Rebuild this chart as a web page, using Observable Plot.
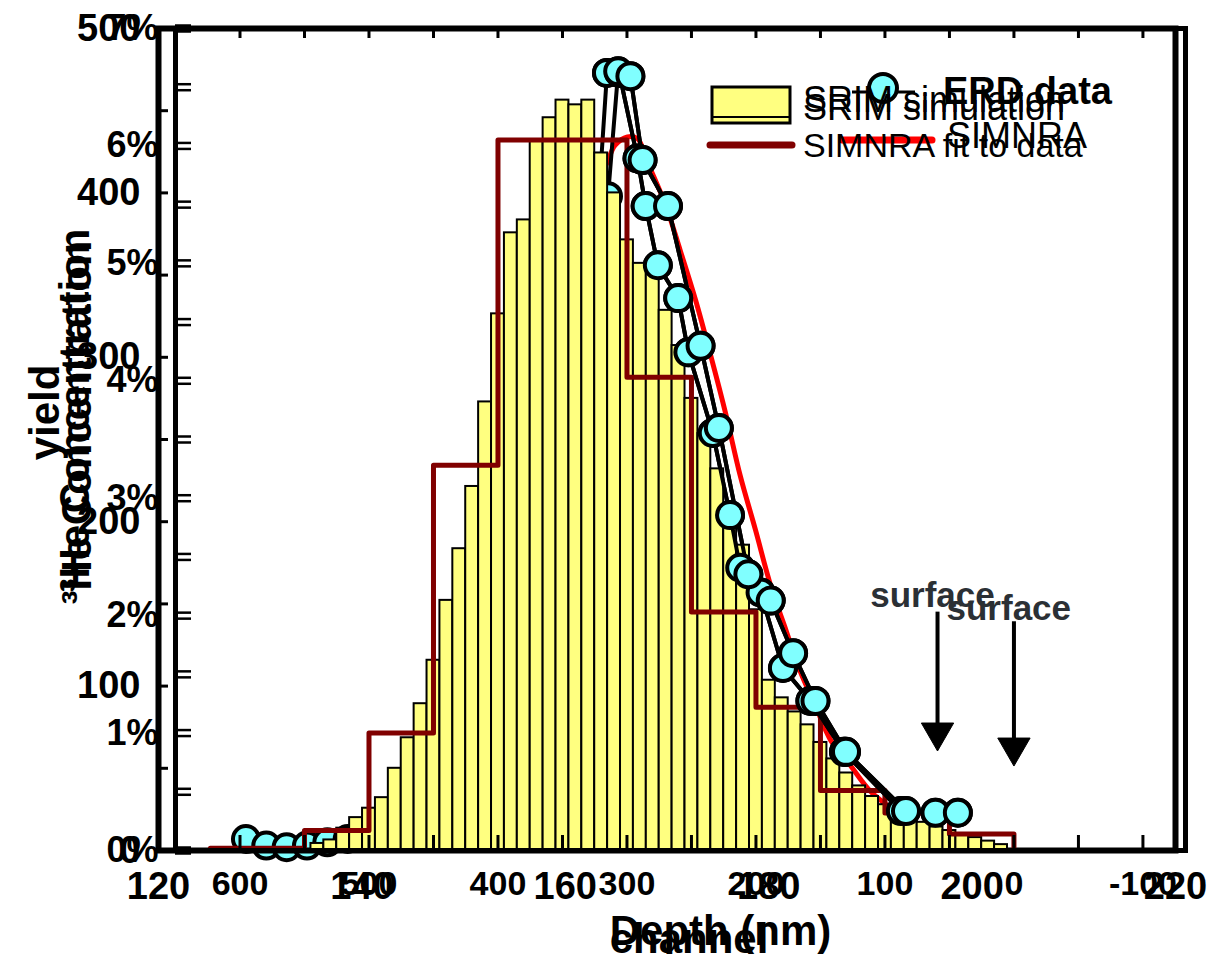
<!DOCTYPE html>
<html><head><meta charset="utf-8">
<script src="https://cdn.jsdelivr.net/npm/d3@7"></script>
<script src="https://cdn.jsdelivr.net/npm/@observablehq/plot@0.6"></script>
<style>
body{margin:0;background:#fff;}
#wrap{position:relative;width:1217px;height:962px;overflow:hidden;background:#fff;}
</style></head><body><div id="wrap"></div>
<script>
const W = 1217, H = 962;
const FONT = '"Liberation Sans", Arial, Helvetica, sans-serif';

// ---- channel / yield chart (ERD data + SIMNRA) ----
const channelTicks = [120, 140, 160, 180, 200, 220];
const yieldTicks = [0, 100, 200, 300, 400, 500];
const yieldMinorTicks = [0, 50, 100, 150, 200, 250, 300, 350, 400, 450, 500];

const erdLowChannel = [128.6, 130.6, 132.6, 134.6, 136.6, 138.6, 140.5];
const erdLowYield   = [7, 3, 2, 3, 5, 7, 9];
const erdChannelA = [163.3, 164.1, 165.3, 167.1, 167.9, 169.1, 171.1, 172.1, 174.5, 176.2, 177.2, 179.2, 181.4, 184.1, 187.4, 193.0, 196.4];
const erdYieldA   = [398, 473, 473, 421, 392, 356, 336, 303, 254, 204, 172, 157, 111, 91, 60, 24, 23];
const erdChannelB = [164.2, 165.2, 166.4, 167.6, 170.1, 173.3, 175.1, 178.0, 180.2, 182.4, 184.6, 187.6, 193.5, 198.6];
const erdYieldB   = [398, 474, 471, 420, 392, 307, 257, 168, 152, 120, 91, 60, 24, 23];

const simnraChannel = [162.5, 164.0, 164.9, 166.1, 167.1, 168.2, 169.9, 171.3, 172.8, 174.3, 175.8, 177.2, 178.7, 180.2, 181.7, 183.1, 184.6, 186.1, 188.0, 190.0, 192.0, 193.9];
const simnraYield   = [401, 417, 429, 434, 433, 417, 392, 365, 335, 301, 265, 228, 195, 161, 134, 109, 88, 67, 52, 36, 26, 19];

const surfaceChannel = [196.6], surfaceYieldFrom = [138], surfaceYieldTo = [67];
const surfaceLabelChannel = [196.1], surfaceLabelYield = [155];
const surfaceLabel = ["surface"];

// ---- depth / concentration chart (SRIM + SIMNRA fit) ----
const depthTicks = [600, 500, 400, 300, 200, 100, 0, -100];
const depthMinorTicks = [600, 550, 500, 450, 400, 350, 300, 250, 200, 150, 100, 50, 0, -50, -100];
const concTicks = [0, 1, 2, 3, 4, 5, 6, 7];
const concMinorTicks = [0, 0.5, 1, 1.5, 2, 2.5, 3, 3.5, 4, 4.5, 5, 5.5, 6, 6.5, 7];

const srimDepth = [540, 530, 520, 510, 500, 490, 480, 470, 460, 450, 440, 430, 420, 410, 400, 390, 380, 370, 360, 350,
                   340, 330, 320, 310, 300, 290, 280, 270, 260, 250, 240, 230, 220, 210, 200, 190, 180, 170, 160, 150,
                   140, 130, 120, 110, 100, 90, 80, 70, 60, 50, 40, 30, 20, 10];
const srimConc  = [0.06, 0.09, 0.19, 0.28, 0.36, 0.45, 0.70, 0.96, 1.25, 1.62, 2.13, 2.57, 3.10, 3.82, 4.57, 5.26, 5.37, 6.05, 6.24, 6.39,
                   6.35, 6.39, 5.94, 5.60, 5.20, 5.00, 4.95, 4.60, 4.30, 3.85, 3.55, 3.25, 2.95, 2.60, 2.05, 1.45, 1.30, 1.18, 1.07, 0.92,
                   0.78, 0.66, 0.55, 0.46, 0.39, 0.33, 0.28, 0.24, 0.20, 0.17, 0.14, 0.11, 0.08, 0.05];
const srimBinHalf = 5;

const fitDepth = [623, 550, 500, 450, 400, 350, 300, 250, 200, 150, 100, 50, 0];
const fitConc  = [0.02, 0.17, 1.00, 3.28, 6.05, 6.05, 4.03, 2.03, 1.22, 0.51, 0.32, 0.14, 0];

const surfaceDepth = [0], surfaceConcFrom = [1.85], surfaceConcTo = [0.81];
const surfaceLabelDepth = [4], surfaceLabelConc = [2.06];

const legendLabels1 = ["ERD data", "SIMNRA"];
const legendLabels2 = ["SRIM simulation", "SIMNRA fit to data"];

// ---- rows ----
const rowsOf = (xs, ys, s) => xs.map((x, i) => ({x, y: ys[i], s}));
const erdLow = rowsOf(erdLowChannel, erdLowYield, "L");
const erdA = rowsOf(erdChannelA, erdYieldA, "A");
const erdB = rowsOf(erdChannelB, erdYieldB, "B");
const erdAll = [...erdLow, ...erdA, ...erdB];
const erdTop = [...erdA.slice(1), ...erdB.slice(1)];
const simnraRows = rowsOf(simnraChannel, simnraYield, "S");
const srimRows = srimDepth.map((d, i) => ({x1: d + srimBinHalf, x2: d - srimBinHalf, y: srimConc[i]}));
const fitRows = rowsOf(fitDepth, fitConc, "F");
const surfA = surfaceChannel.map((c, i) => ({x: c, y1: surfaceYieldFrom[i], y2: surfaceYieldTo[i], lx: surfaceLabelChannel[i], ly: surfaceLabelYield[i], t: surfaceLabel[0]}));
const surfB = surfaceDepth.map((d, i) => ({x: d, y1: surfaceConcFrom[i], y2: surfaceConcTo[i], lx: surfaceLabelDepth[i], ly: surfaceLabelConc[i], t: surfaceLabel[0]}));

const svgStyle = {position: "absolute", left: "0px", top: "0px", background: "transparent", overflow: "visible", fontFamily: FONT, color: "black"};
const common = {width: W, height: H, marginTop: 28, marginBottom: 112, style: svgStyle};
const bold = {fontWeight: "bold", fill: "black"};

// arrow: shaft + filled head at the tip
const surfaceArrow = (rows) => [
  Plot.link(rows, {x1: "x", y1: "y1", x2: "x", y2: "y2", stroke: "black", strokeWidth: 4, dy: -12}),
  Plot.dot(rows, {x: "x", y: "y2", symbol: "triangle", rotate: 180, r: 12, fill: "black", stroke: "black", strokeWidth: 1, dy: -8})
];

const chartA = Plot.plot({
  ...common, marginLeft: 158, marginRight: 42,
  x: {domain: [120, 220]}, y: {domain: [0, 500]},
  marks: [
    Plot.tickY(yieldMinorTicks, {y: d => d, stroke: "black", strokeWidth: 3, insetRight: 1007}),
    Plot.line(simnraRows, {x: "x", y: "y", stroke: "#ff0000", strokeWidth: 5, curve: "catmull-rom"}),
    Plot.line(erdAll, {x: "x", y: "y", z: "s", stroke: "black", strokeWidth: 4}),
    Plot.dot(erdAll, {x: "x", y: "y", r: 13, fill: "#80ffff", stroke: "black", strokeWidth: 4}),
    ...surfaceArrow(surfA),
    Plot.text(surfA, {x: "lx", y: "ly", text: "t", fontSize: 35, fontWeight: "bold", fill: "#2b3035"}),
    Plot.frame({stroke: "black", strokeWidth: 6}),
    Plot.axisX({ticks: channelTicks, tickSize: 0, tickPadding: 22, fontSize: 38, ...bold, label: null, tickFormat: d => String(d)}),
    Plot.axisY({ticks: yieldTicks, tickSize: 0, tickPadding: 18, fontSize: 38, ...bold, label: null, tickFormat: d => String(d)}),
    Plot.text(["yield"], {text: d => d, frameAnchor: "left", textAnchor: "middle", lineAnchor: "middle", rotate: -90, dx: -113, dy: -27, fontSize: 42, ...bold}),
    Plot.text(["channel"], {text: d => d, frameAnchor: "bottom", textAnchor: "middle", lineAnchor: "middle", dx: 22, dy: 89, fontSize: 42, ...bold})
  ]
});

const chartB = Plot.plot({
  ...common, marginLeft: 175, marginRight: 32,
  x: {domain: [650, -133]}, y: {domain: [0, 7]},
  marks: [
    Plot.rect(srimRows, {x1: "x1", x2: "x2", y1: 0, y2: "y", fill: "#ffff80", stroke: "black", strokeWidth: 2}),
    Plot.line(fitRows, {x: "x", y: "y", curve: "step-after", stroke: "#800000", strokeWidth: 5}),
    Plot.tickY(concMinorTicks, {y: d => d, stroke: "black", strokeWidth: 2.5, insetRight: 994, dy: -3}),
    Plot.tickY(concMinorTicks, {y: d => d, stroke: "black", strokeWidth: 2.5, insetRight: 994, dy: 3}),
    Plot.tickX(depthMinorTicks, {x: d => d, stroke: "black", strokeWidth: 3, insetTop: 807}),
    Plot.tickX(depthMinorTicks, {x: d => d, stroke: "black", strokeWidth: 3, insetBottom: 812}),
    ...surfaceArrow(surfB),
    Plot.text(surfB, {x: "lx", y: "ly", text: "t", fontSize: 35, fontWeight: "bold", fill: "#2b3035"}),
    Plot.frame({stroke: "black", strokeWidth: 5}),
    Plot.axisX({ticks: depthTicks, tickSize: 0, tickPadding: 20, fontSize: 34, ...bold, label: null, tickFormat: d => String(d)}),
    Plot.axisY({ticks: concTicks, tickSize: 0, tickPadding: 17, fontSize: 36, ...bold, label: null, tickFormat: d => d + "%"}),
    Plot.text(["³He Concentration"], {text: d => d, frameAnchor: "left", textAnchor: "middle", lineAnchor: "middle", rotate: -90, dx: -100, dy: -29, fontSize: 42, ...bold}),
    Plot.text(["³He Concentration"], {text: d => d, frameAnchor: "left", textAnchor: "middle", lineAnchor: "middle", rotate: -90, dx: -98, dy: -17, fontSize: 42, ...bold}),
    Plot.text(["Depth (nm)"], {text: d => d, frameAnchor: "bottom", textAnchor: "middle", lineAnchor: "middle", dx: 40, dy: 81, fontSize: 42, ...bold})
  ]
});

const chartC = Plot.plot({
  ...common, marginLeft: 158, marginRight: 42,
  x: {domain: [120, 220], axis: null}, y: {domain: [0, 500], axis: null},
  marks: [
    Plot.line(erdTop, {x: "x", y: "y", z: "s", stroke: "black", strokeWidth: 4}),
    Plot.dot(erdTop, {x: "x", y: "y", r: 13, fill: "#80ffff", stroke: "black", strokeWidth: 4})
  ]
});

const wrap = document.getElementById("wrap");
wrap.append(chartA, chartB, chartC);

// ---- legends (overlay) ----
const leg = d3.select(wrap).append("svg")
  .attr("width", W).attr("height", H)
  .style("position", "absolute").style("left", "0px").style("top", "0px")
  .style("font-family", FONT);
// legend 1 (ERD data / SIMNRA)
leg.append("line").attr("x1", 852).attr("x2", 915).attr("y1", 92).attr("y2", 92).attr("stroke", "black").attr("stroke-width", 3);
leg.append("circle").attr("cx", 883).attr("cy", 88).attr("r", 14).attr("fill", "#80ffff").attr("stroke", "black").attr("stroke-width", 4);
leg.append("text").attr("x", 943).attr("y", 104).attr("font-size", 38).attr("font-weight", "bold").text(legendLabels1[0]);
leg.append("line").attr("x1", 842).attr("x2", 932).attr("y1", 140).attr("y2", 140).attr("stroke", "#ff0000").attr("stroke-width", 7).attr("stroke-linecap", "round");
leg.append("text").attr("x", 947).attr("y", 148).attr("font-size", 36).text(legendLabels1[1]);
// legend 2 (SRIM simulation / SIMNRA fit to data)
leg.append("rect").attr("x", 712).attr("y", 87).attr("width", 78).attr("height", 36).attr("fill", "#ffff80").attr("stroke", "black").attr("stroke-width", 3);
leg.append("line").attr("x1", 712).attr("x2", 790).attr("y1", 117).attr("y2", 117).attr("stroke", "black").attr("stroke-width", 2);
leg.append("text").attr("x", 803).attr("y", 112).attr("font-size", 36).text(legendLabels2[0]);
leg.append("text").attr("x", 803).attr("y", 120).attr("font-size", 36).text(legendLabels2[0]);
leg.append("line").attr("x1", 710).attr("x2", 792).attr("y1", 145).attr("y2", 145).attr("stroke", "#800000").attr("stroke-width", 7).attr("stroke-linecap", "round");
leg.append("text").attr("x", 803).attr("y", 157).attr("font-size", 34).text(legendLabels2[1]);
</script></body></html>
